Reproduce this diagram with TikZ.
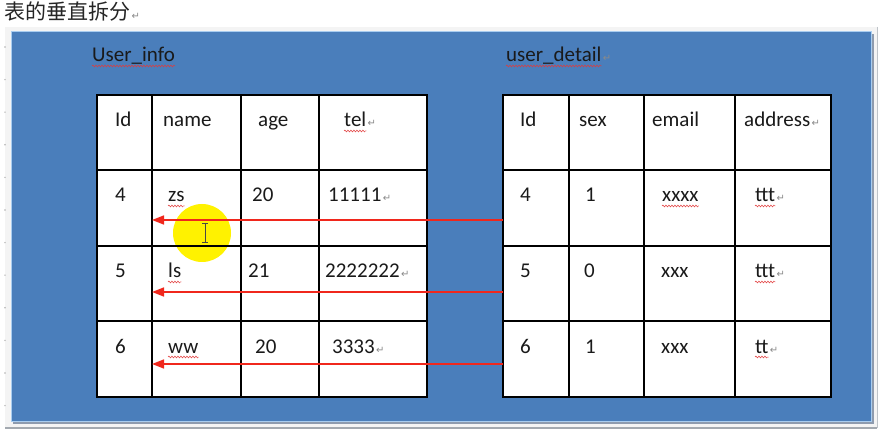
\documentclass[tikz,border=0pt]{standalone}
\usepackage{fontspec}
\setmainfont{Carlito}
\newfontfamily\cjk{Noto Sans CJK SC}
\newfontfamily\symfont{DejaVu Sans}
\usetikzlibrary{arrows.meta,decorations.pathmorphing}

\definecolor{panelblue}{HTML}{4A7EBB}
\definecolor{panelrim}{HTML}{A9CDF0}
\definecolor{shadowgray}{HTML}{8E9BAE}
\definecolor{pagegray}{HTML}{F4F4F4}
\definecolor{pageedge}{HTML}{A3A9B0}
\definecolor{retgray}{HTML}{8A8A8A}
\definecolor{fkred}{HTML}{F0271C}
\definecolor{spellred}{HTML}{E23A3A}
\definecolor{hilite}{HTML}{FFF200}
\definecolor{ink}{HTML}{1A1A1A}

\newcommand{\retmark}{{\color{retgray}\symfont\fontsize{10}{10}\selectfont ↵}}

\begin{document}
\begin{tikzpicture}[x=1pt,y=-1pt,
  txt/.style={anchor=base west, inner sep=0pt, text=ink, font=\fontsize{21}{21}\selectfont},
  ttl/.style={anchor=base west, inner sep=0pt, text=black!85, font=\fontsize{21}{21}\selectfont\cjk},
  ret/.style={anchor=base west, inner sep=0pt, xshift=1pt},
  tablebox/.style={draw=black, fill=white, line width=1.3pt, anchor=north west, inner sep=0pt},
  grid/.style={draw=black, line width=1.2pt},
  fk/.style={draw=fkred, line width=1.6pt, -{Triangle[length=12pt,width=9pt]}},
  wavy/.style={draw=spellred, line width=0.5pt, decorate,
               decoration={snake, amplitude=0.9pt, segment length=3pt}},
  ]
\useasboundingbox (0,0) rectangle (880,435);
\fill[white] (0,0) rectangle (880,435);

% page area behind the panel
\fill[pagegray] (5,27) rectangle (877,428);
\draw[pageedge, line width=1.6pt] (5,428) -- (877,428);
\draw[pageedge!70, line width=1pt] (877,27) -- (877,428);
\foreach \k in {0,...,11}
  \fill[gray!60] (5,47+32.6*\k) circle (0.8);

% heading
\node[ttl] (title) at (4,20) {表的垂直拆分};
\node[ret] (titleret) at (title.base east) {\retmark};

% blue panel with its shadow
\fill[shadowgray] (13,34) rectangle (874,424);
\filldraw[fill=panelblue, draw=panelrim, line width=1pt] (11,32) rectangle (871,421);

% table captions
\node[txt] (infocap) at (92,62) {User\_info};
\draw[wavy] ([yshift=-4pt]infocap.base west) -- ([yshift=-4pt]infocap.base east);
\node[txt] (detailcap) at (506,62) {user\_detail};
\node[ret] at (detailcap.base east) {\retmark};
\draw[wavy] ([yshift=-4pt]detailcap.base west) -- ([yshift=-4pt]detailcap.base east);

% table bodies
\node[tablebox, minimum width=330pt, minimum height=302pt] (infotab) at (97,95) {};
\node[tablebox, minimum width=328pt, minimum height=302pt] (detailtab) at (503,95) {};

% highlight of the pointer
\fill[hilite] (202,233) circle (29);

% grid lines
\foreach \x in {152,241,319} \draw[grid] (\x,95) -- (\x,397);
\foreach \y in {170,246,321} \draw[grid] (97,\y) -- (427,\y);
\foreach \x in {569,644,735} \draw[grid] (\x,95) -- (\x,397);
\foreach \y in {170,246,321} \draw[grid] (503,\y) -- (831,\y);
\draw[black, line width=1.3pt] (97,95) rectangle (427,397);
\draw[black, line width=1.3pt] (503,95) rectangle (831,397);

% User_info cells
\node[txt] (i11) at (115,127) {Id};
\node[txt] (i12) at (163,127) {name};
\node[txt] (i13) at (258,127) {age};
\node[txt] (i14) at (344,127) {tel};
\node[ret] at (i14.base east) {\retmark};
\draw[wavy] ([yshift=-4pt]i14.base west) -- ([yshift=-4pt]i14.base east);

\node[txt] (i21) at (115,202) {4};
\node[txt] (i22) at (168,202) {zs};
\draw[wavy] ([yshift=-4pt]i22.base west) -- ([yshift=-4pt]i22.base east);
\node[txt] (i23) at (252,202) {20};
\node[txt] (i24) at (328,202) {11111};
\node[ret] at (i24.base east) {\retmark};

\node[txt] (i31) at (115,278) {5};
\node[txt] (i32) at (168,278) {ls};
\draw[wavy] ([yshift=-4pt]i32.base west) -- ([yshift=-4pt]i32.base east);
\node[txt] (i33) at (248,278) {21};
\node[txt] (i34) at (325,278) {2222222};
\node[ret] at (i34.base east) {\retmark};

\node[txt] (i41) at (115,353) {6};
\node[txt] (i42) at (168,353) {ww};
\draw[wavy] ([yshift=-4pt]i42.base west) -- ([yshift=-4pt]i42.base east);
\node[txt] (i43) at (255,353) {20};
\node[txt] (i44) at (332,353) {3333};
\node[ret] at (i44.base east) {\retmark};

% user_detail cells
\node[txt] (d11) at (520,127) {Id};
\node[txt] (d12) at (579,127) {sex};
\node[txt] (d13) at (652,127) {email};
\node[txt] (d14) at (744,127) {address};
\node[ret] at (d14.base east) {\retmark};

\node[txt] (d21) at (520,202) {4};
\node[txt] (d22) at (585,202) {1};
\node[txt] (d23) at (662,202) {xxxx};
\draw[wavy] ([yshift=-4pt]d23.base west) -- ([yshift=-4pt]d23.base east);
\node[txt] (d24) at (755,202) {ttt};
\node[ret] at (d24.base east) {\retmark};
\draw[wavy] ([yshift=-4pt]d24.base west) -- ([yshift=-4pt]d24.base east);

\node[txt] (d31) at (520,278) {5};
\node[txt] (d32) at (584,278) {0};
\node[txt] (d33) at (661,278) {xxx};
\node[txt] (d34) at (755,278) {ttt};
\node[ret] at (d34.base east) {\retmark};
\draw[wavy] ([yshift=-4pt]d34.base west) -- ([yshift=-4pt]d34.base east);

\node[txt] (d41) at (520,353) {6};
\node[txt] (d42) at (585,353) {1};
\node[txt] (d43) at (661,353) {xxx};
\node[txt] (d44) at (755,353) {tt};
\node[ret] at (d44.base east) {\retmark};
\draw[wavy] ([yshift=-4pt]d44.base west) -- ([yshift=-4pt]d44.base east);

% text cursor
\draw[ink!80, line width=0.9pt] (205,223) -- (205,242)
  (202,223) -- (208,223) (202,242) -- (208,242);

% row links from user_detail to User_info
\coordinate (src4) at (503,220);
\coordinate (dst4) at (152,220);
\coordinate (src5) at (503,292);
\coordinate (dst5) at (152,292);
\coordinate (src6) at (503,364);
\coordinate (dst6) at (152,364);
\draw[fk] (src4) -- (dst4);
\draw[fk] (src5) -- (dst5);
\draw[fk] (src6) -- (dst6);
\end{tikzpicture}
\end{document}
